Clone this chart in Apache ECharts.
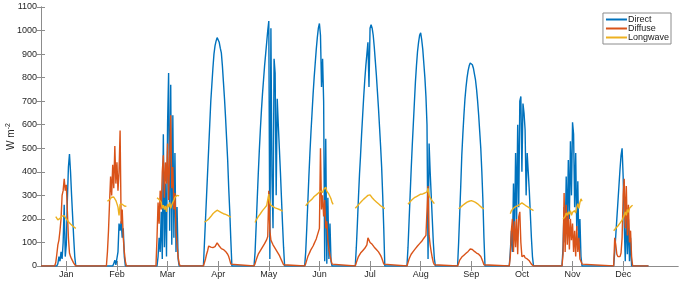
<!DOCTYPE html>
<html>
<head>
<meta charset="utf-8">
<script src="https://cdn.jsdelivr.net/npm/echarts@6/dist/echarts.min.js"></script>
<style>
  body { margin: 0; background: #fff; }
  #chart { width: 680px; height: 281px; }
</style>
</head>
<body>
<div id="chart"></div>
<script>
var months = ['Jan', 'Feb', 'Mar', 'Apr', 'May', 'Jun', 'Jul', 'Aug', 'Sep', 'Oct', 'Nov', 'Dec']
var monthNoon = [12, 36, 60, 84, 108, 132, 156, 180, 204, 228, 252, 276]
var step = 0.5

// one day per month, values every half hour from the start hour (W m-2)
var directStart = [7.5, 9, 7, 5, 5, 5, 5, 5.5, 5.5, 6, 7, 7.5]
var direct = [
    [0,10,40,20,60,30,100,260,40,90,280,420,475,400,300,210,120,40,0],
    [0,5,0,10,25,5,0,60,180,150,190,120,160,40,0],
    [0,40,120,60,230,30,560,80,350,40,600,820,150,770,90,640,120,480,60,250,30,0],
    [0,100,200,300,400,500,600,700,770,840,900,935,955,970,965,950,925,905,850,780,710,630,540,450,330,230,110,0],
    [0,60,170,280,390,490,580,660,730,790,850,900,950,1000,1040,30,1010,380,160,880,820,300,710,600,500,400,290,180,80,0],
    [0,60,160,270,380,480,570,650,730,800,860,920,970,1010,1030,980,760,880,700,20,540,10,290,30,180,20,0,0],
    [0,80,180,290,390,470,560,640,720,790,850,900,950,760,1010,1025,1010,980,930,870,810,740,670,590,510,420,300,160,0],
    [0,80,190,300,410,510,600,690,780,850,910,950,980,990,960,920,860,800,720,600,30,520,400,300,200,100,30,0],
    [0,100,220,340,470,560,640,710,760,800,830,850,862,865,855,840,815,790,750,700,640,570,500,400,280,120,0],
    [0,60,150,60,350,120,480,200,600,250,700,720,400,690,650,580,300,480,400,320,220,120,40,0],
    [0,80,250,100,380,150,450,200,530,300,610,560,250,480,150,360,80,200,40,0],
    [0,60,130,200,270,340,410,470,500,380,180,20,240,50,200,20,120,0]
]

var diffuseStart = [6.5, 7, 6.5, 5, 5, 5, 5, 5.5, 5.5, 6, 7, 7.5]
var diffuse = [
    [0,15,50,90,110,150,200,300,320,370,320,345,350,120,55,40,30,25,12,5,0],
    [0,60,150,270,380,300,430,330,510,350,440,320,400,575,180,240,120,60,20,0],
    [0,120,270,180,320,240,400,470,290,440,350,520,280,460,640,330,420,240,310,150,90,40,10,0],
    [0,15,30,50,65,85,88,80,72,78,70,82,90,98,90,85,78,74,72,70,68,62,58,50,40,25,8,0],
    [0,10,25,38,50,58,65,72,80,88,95,102,112,125,320,150,110,100,90,85,75,70,60,52,45,35,25,15,5,0],
    [0,10,25,40,50,60,70,78,85,95,105,115,130,145,160,500,240,300,210,280,160,190,110,70,45,25,8,0],
    [0,15,28,40,48,55,60,65,70,75,82,90,120,110,100,95,92,88,80,75,70,65,60,52,45,35,22,8,0],
    [0,15,30,40,50,58,62,70,74,80,85,90,95,98,105,110,118,112,130,125,340,130,90,60,35,15,5,0],
    [0,12,25,32,38,42,46,50,54,58,62,68,72,75,70,66,62,58,55,52,50,45,40,30,18,5,0],
    [0,40,150,200,60,190,80,200,50,210,230,100,40,35,45,35,30,30,25,22,15,8,3,0],
    [0,50,310,60,260,90,220,70,200,110,180,60,150,40,170,60,120,30,20,8,0],
    [0,120,90,50,40,38,40,55,120,300,370,160,340,130,260,100,150,40,0]
]

var longwaveStart = [7, 7.5, 7, 5.5, 5.5, 5.5, 5, 6, 6, 6.5, 7.5, 7.5]
var longwave = [
    [210,205,196,200,202,205,212,218,214,210,200,195,188,184,178,172,170,166,163,160],
    [275,278,282,288,292,296,293,288,278,265,250,215,262,258,262,256,255,254,253],
    [290,288,282,285,270,245,258,240,255,230,262,250,270,245,260,268,280,292,295,300,302,298],
    [186,188,192,196,200,205,210,216,222,226,230,234,237,236,232,229,227,225,222,221,219,217,215,212,210,207],
    [185,195,202,210,216,222,228,235,240,246,252,257,265,305,268,258,255,252,249,247,245,244,242,240,238,236,232],
    [255,262,268,272,276,280,284,290,295,300,302,306,310,314,318,322,312,325,318,335,318,325,305,295,285,270,262],
    [245,250,255,260,265,270,275,280,284,288,292,296,300,305,302,296,290,285,280,276,272,268,264,260,256,253,250,247,244],
    [262,268,273,278,282,286,290,292,295,298,300,303,305,302,306,300,310,302,315,330,300,290,282,276,270,265],
    [243,246,250,254,258,262,265,268,271,273,275,277,278,276,274,272,270,267,264,260,256,252,248,245,242],
    [222,235,240,245,248,252,250,256,258,262,265,268,266,262,258,255,252,250,246,243,240,238,235],
    [200,205,210,225,215,230,220,235,215,228,222,235,225,250,265,245,270,285,275],
    [150,155,160,165,170,176,182,188,195,205,215,230,215,240,228,245,250,255,258]
]

var color_list = ['#0072BD', '#D95319', '#EDB120']
var font = 'Helvetica, "Liberation Sans", Arial, sans-serif'

// night is zero for the shortwave terms; longwave only shown in daylight
function build(days, starts, nightZero) {
    var pts = []
    if (nightZero) pts.push([0, 0])
    for (var d = 0; d < days.length; d++) {
        for (var i = 0; i < days[d].length; i++) {
            pts.push([24 * d + starts[d] + i * step, days[d][i]])
        }
        if (!nightZero) pts.push([24 * d + 23.5, '-'])
    }
    if (nightZero) pts.push([24 * days.length, 0])
    return pts
}

function lineSeries(name, data) {
    return {
        name: name,
        type: 'line',
        showSymbol: false,
        symbol: 'none',
        data: data,
        lineStyle: { width: 1.4 },
        connectNulls: false,
    }
}

var axisLine = { show: true, lineStyle: { color: '#8c8c8c', width: 1 } }
var tickStyle = { color: '#8c8c8c', width: 1 }

var option = {
    animation: false,
    color: color_list,
    grid: { left: 41, right: 2, top: 7, bottom: 15, containLabel: false, outerBoundsMode: 'none' },
    legend: {
        orient: 'vertical',
        right: 9,
        top: 13,
        itemWidth: 21,
        itemHeight: 2,
        itemGap: 0,
        icon: 'rect',
        padding: [2, 2, 2, 3],
        borderColor: '#8c8c8c',
        borderWidth: 1,
        backgroundColor: '#fff',
        textStyle: { fontFamily: font, fontSize: 9, color: '#1a1a1a', padding: [0, 0, 0, -4], lineHeight: 9 },
        data: ['Direct', 'Diffuse', 'Longwave']
    },
    xAxis: [
        {
            type: 'value',
            min: 0,
            max: 302,
            position: 'bottom',
            splitLine: { show: false },
            axisLine: axisLine,
            axisTick: { show: true, inside: true, length: 5, lineStyle: tickStyle, customValues: monthNoon },
            axisLabel: {
                customValues: monthNoon,
                margin: 4,
                fontFamily: font,
                fontSize: 9,
                color: '#262626',
                formatter: function (v) { return months[monthNoon.indexOf(v)] }
            }
        },
        {
            type: 'value',
            min: 0,
            max: 302,
            position: 'top',
            splitLine: { show: false },
            axisLine: axisLine,
            axisTick: { show: true, inside: true, length: 5, lineStyle: tickStyle, customValues: monthNoon },
            axisLabel: { show: false }
        }
    ],
    yAxis: [
        {
            type: 'value',
            min: 0,
            max: 1100,
            interval: 100,
            position: 'left',
            splitLine: { show: false },
            axisLine: axisLine,
            axisTick: { show: true, inside: true, length: 4, lineStyle: tickStyle },
            axisLabel: {
                margin: 4, fontFamily: font, fontSize: 9, color: '#262626',
                formatter: function (v) { return String(v) }
            },
            name: 'W m{sup|-2}',
            nameLocation: 'middle',
            nameGap: 23,
            nameMoveOverlap: false,
            nameTextStyle: {
                fontFamily: font,
                fontSize: 10,
                color: '#262626',
                rich: { sup: { fontFamily: font, fontSize: 7, color: '#262626', padding: [0, 0, 6, 0] } }
            }
        },
        {
            type: 'value',
            min: 0,
            max: 1100,
            interval: 100,
            position: 'right',
            splitLine: { show: false },
            axisLine: axisLine,
            axisTick: { show: true, inside: true, length: 4, lineStyle: tickStyle },
            axisLabel: { show: false }
        }
    ],
    series: [
        lineSeries('Direct', build(direct, directStart, true)),
        lineSeries('Diffuse', build(diffuse, diffuseStart, true)),
        lineSeries('Longwave', build(longwave, longwaveStart, false))
    ]
}

var myChart = echarts.init(document.getElementById('chart'))
myChart.setOption(option)
</script>
</body>
</html>
